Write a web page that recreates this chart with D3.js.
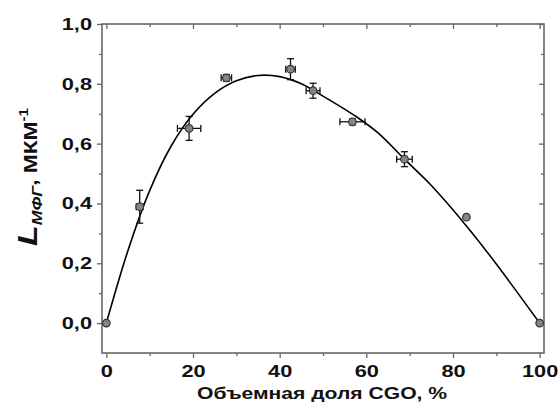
<!DOCTYPE html>
<html>
<head>
<meta charset="utf-8">
<script src="https://cdn.jsdelivr.net/npm/d3@7"></script>
<style>
  body { margin: 0; background: #fff; }
  text { font-family: "Liberation Sans", Arial, sans-serif; font-weight: bold; fill: #111; }
</style>
</head>
<body>
<svg width="560" height="412"></svg>
<script>
let width = 560;
let height = 412;

// measured points (volume fraction CGO, %) and L values
let volFrac = [0, 7.7, 19.1, 27.7, 42.5, 47.7, 56.8, 68.8, 83.1, 100];
let lVals   = [0, 0.389, 0.651, 0.820, 0.849, 0.777, 0.673, 0.548, 0.354, 0];
let xErr    = [0, 0.8, 2.7, 1.2, 1.1, 1.6, 2.9, 1.8, 0, 0];
let yErr    = [0, 0.055, 0.04, 0.011, 0.035, 0.025, 0.01, 0.025, 0, 0];

// fitted curve
let fitX = [0, 5, 10, 15, 20, 25, 30, 35, 40, 45, 50, 57.7, 62.7, 68.8, 75, 83.1, 89.6, 100];
let fitY = [0, 0.243, 0.443, 0.593, 0.698, 0.768, 0.81, 0.828, 0.824, 0.8, 0.759, 0.69, 0.636, 0.548, 0.46, 0.325, 0.205, 0];

let xMajor = [0, 20, 40, 60, 80, 100];
let xMinor = [10, 30, 50, 70, 90];
let yMajor = [0, 0.2, 0.4, 0.6, 0.8, 1.0];
let yMinor = [0.1, 0.3, 0.5, 0.7, 0.9];

let x = d3.scaleLinear().domain([-1, 101]).range([102, 544]);
let y = d3.scaleLinear().domain([-0.1, 1.0]).range([353, 24]);

let svg = d3.select('svg');
let fmt = d => d3.format('.1f')(d).replace('.', ',');
let frameColor = '#666';

function styleAxis(g) {
  g.select('.domain').remove();
  g.selectAll('line').attr('stroke', frameColor).attr('stroke-width', 1.3);
  g.selectAll('text').attr('fill', '#111').style('font-size', '17px').attr('font-family', null);
}

// minor ticks
svg.append('g').attr('transform', `translate(0,353)`)
  .call(d3.axisBottom(x).tickValues(xMinor).tickSize(3).tickFormat(''))
  .call(styleAxis);
svg.append('g').attr('transform', `translate(0,24)`)
  .call(d3.axisBottom(x).tickValues(xMinor).tickSize(3).tickFormat(''))
  .call(styleAxis);
svg.append('g').attr('transform', `translate(102,0)`)
  .call(d3.axisLeft(y).tickValues(yMinor).tickSize(3).tickFormat(''))
  .call(styleAxis);
svg.append('g').attr('transform', `translate(544,0)`)
  .call(d3.axisLeft(y).tickValues(yMinor).tickSize(3).tickFormat(''))
  .call(styleAxis);

// major ticks
let xAxisG = svg.append('g').attr('transform', `translate(0,353)`)
  .call(d3.axisBottom(x).tickValues(xMajor).tickSize(5).tickPadding(7).tickFormat(d3.format('d')))
  .call(styleAxis);
svg.append('g').attr('transform', `translate(0,24)`)
  .call(d3.axisBottom(x).tickValues(xMajor).tickSize(5).tickFormat(''))
  .call(styleAxis);
let yAxisG = svg.append('g').attr('transform', `translate(102,0)`)
  .call(d3.axisLeft(y).tickValues(yMajor).tickSize(5).tickPadding(5).tickFormat(fmt))
  .call(styleAxis);
svg.append('g').attr('transform', `translate(544,0)`)
  .call(d3.axisLeft(y).tickValues(yMajor).tickSize(5).tickFormat(''))
  .call(styleAxis);

// picture is stretched horizontally, widen the labels to match
[xAxisG, yAxisG].forEach(g => {
  g.selectAll('text').each(function() {
    let w = this.getComputedTextLength();
    d3.select(this).attr('textLength', w * 1.28).attr('lengthAdjust', 'spacingAndGlyphs');
  });
});

// frame
svg.append('rect')
  .attr('x', 102).attr('y', 24)
  .attr('width', 442).attr('height', 329)
  .attr('fill', 'none')
  .attr('stroke', frameColor)
  .attr('stroke-width', 1.6);

// fitted curve
let line = d3.line()
  .x((d, i) => x(fitX[i]))
  .y(d => y(d))
  .curve(d3.curveCatmullRom.alpha(0.5));

svg.append('path')
  .datum(fitY)
  .attr('d', line)
  .attr('fill', 'none')
  .attr('stroke', '#000')
  .attr('stroke-width', 1.6);

// error bars
let pts = volFrac.map((v, i) => ({x: v, y: lVals[i], ex: xErr[i], ey: yErr[i]}));
let eb = svg.append('g').attr('stroke', '#111').attr('stroke-width', 1.3);
let cap = 3.5;
pts.filter(d => d.ey > 0).forEach(d => {
  let cx = x(d.x), y1 = y(d.y - d.ey), y2 = y(d.y + d.ey);
  eb.append('line').attr('x1', cx).attr('x2', cx).attr('y1', y1).attr('y2', y2);
  eb.append('line').attr('x1', cx - cap).attr('x2', cx + cap).attr('y1', y1).attr('y2', y1);
  eb.append('line').attr('x1', cx - cap).attr('x2', cx + cap).attr('y1', y2).attr('y2', y2);
});
pts.filter(d => d.ex > 0).forEach(d => {
  let cy = y(d.y), x1 = x(d.x - d.ex), x2 = x(d.x + d.ex);
  eb.append('line').attr('x1', x1).attr('x2', x2).attr('y1', cy).attr('y2', cy);
  eb.append('line').attr('x1', x1).attr('x2', x1).attr('y1', cy - cap).attr('y2', cy + cap);
  eb.append('line').attr('x1', x2).attr('x2', x2).attr('y1', cy - cap).attr('y2', cy + cap);
});

// markers
svg.append('g')
  .selectAll('circle')
  .data(pts)
  .enter()
    .append('circle')
    .attr('cx', d => x(d.x))
    .attr('cy', d => y(d.y))
    .attr('r', 3.8)
    .attr('fill', '#858585')
    .attr('stroke', '#333')
    .attr('stroke-width', 1.2);

// x axis title
svg.append('text')
  .attr('x', 322)
  .attr('y', 399)
  .attr('text-anchor', 'middle')
  .attr('textLength', 250)
  .attr('lengthAdjust', 'spacingAndGlyphs')
  .style('font-size', '17px')
  .text('Объемная доля CGO, %');

// y axis title
let yt = svg.append('text')
  .attr('transform', 'translate(37,246) rotate(-90)')
  .attr('text-anchor', 'start');
yt.append('tspan').style('font-size', '27px').style('font-style', 'italic').text('L');
yt.append('tspan').style('font-size', '14px').style('font-style', 'italic').attr('dy', 5).text('МФГ');
yt.append('tspan').style('font-size', '18px').attr('dy', -5).text(', МКМ');
yt.append('tspan').style('font-size', '12px').attr('dy', -9).text('-1');
yt.attr('textLength', 138).attr('lengthAdjust', 'spacingAndGlyphs');
</script>
</body>
</html>
